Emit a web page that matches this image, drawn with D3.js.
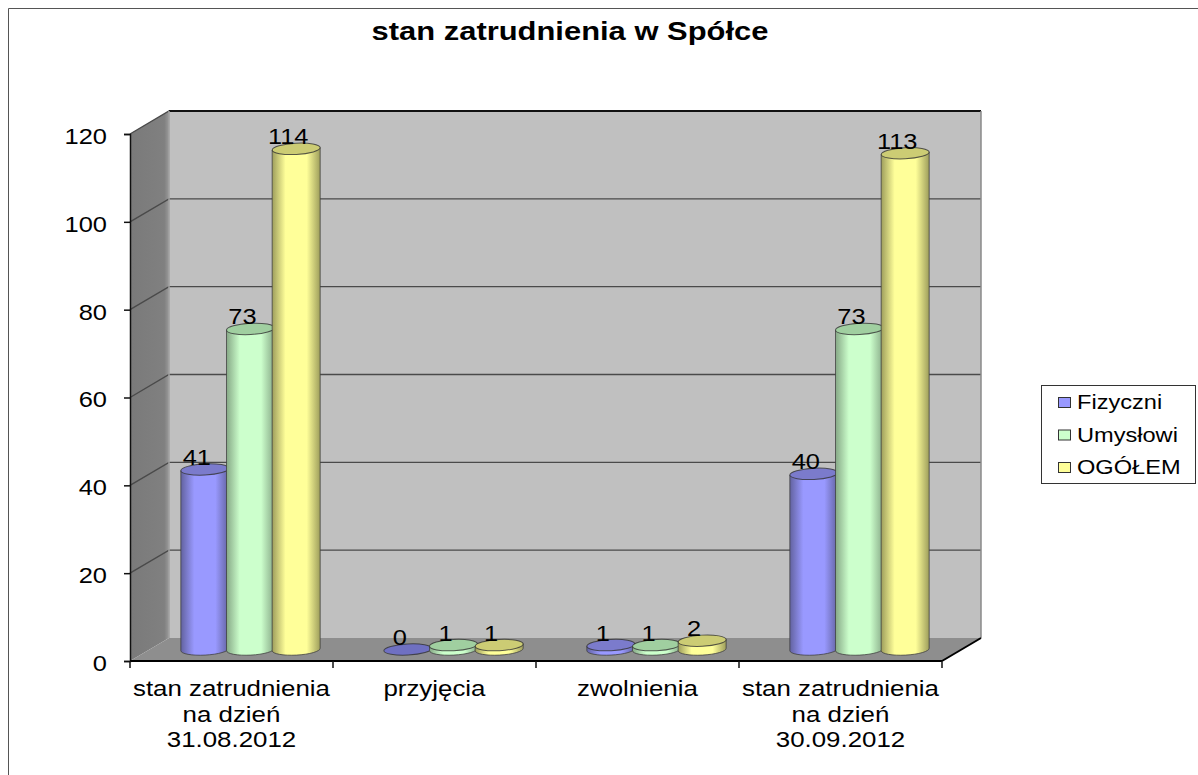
<!DOCTYPE html>
<html><head><meta charset="utf-8">
<script src="https://cdn.jsdelivr.net/npm/d3@7"></script>
<style>html,body{margin:0;padding:0;background:#fff}svg{display:block}text{font-family:"Liberation Sans",Arial,sans-serif;fill:#000}</style>
</head><body><script>
const title = "stan zatrudnienia w Spółce";
const categories = [["stan zatrudnienia","na dzień","31.08.2012"],["przyjęcia"],["zwolnienia"],["stan zatrudnienia","na dzień","30.09.2012"]];
const seriesNames = ["Fizyczni","Umysłowi","OGÓŁEM"];
const fizyczni = [41,0,1,40];
const umyslowi = [73,1,1,73];
const ogolem = [114,1,2,113];
const yTicks = [0,20,40,60,80,100,120];
const seriesValues = [fizyczni,umyslowi,ogolem];
const colors = [
 {main:"#9999ff",dark:"#62629f",top:"#7b7bcc"},
 {main:"#ccffcc",dark:"#86a886",top:"#a0cfa0"},
 {main:"#ffff99",dark:"#9e9e5c",top:"#cccc74"}];
const W=1198,H=775,dx=39,dy=-23;
const svg=d3.select("body").append("svg").attr("width",W).attr("height",H);
const defs=svg.append("defs");
colors.forEach((c,i)=>{
  const g=defs.append("linearGradient").attr("id","cyl"+i);
  [[0,c.dark],[.28,c.main],[.72,c.main],[1,c.dark]].forEach(([o,col])=>g.append("stop").attr("offset",o).attr("stop-color",col));
});
const sideGrad=defs.append("linearGradient").attr("id","side");
[[0,"#7a7a7a"],[.88,"#808080"],[1,"#9a9a9a"]].forEach(([o,c])=>sideGrad.append("stop").attr("offset",o).attr("stop-color",c));

const x=d3.scaleBand().domain(d3.range(categories.length)).range([130,942]);
const y=d3.scaleLinear().domain([0,120]).range([661,134]);
const inner=d3.scaleBand().domain(d3.range(3)).range([-69,68]);
const y0=y(0),y1=y(120);
const xL=x.range()[0],xR=x.range()[1];

// horizontal stretch of text about its anchor
function stretch(sel,sx){
  sel.each(function(){
    const a=this.getAttribute("text-anchor")||getComputedStyle(this).textAnchor;
    const b=this.getBBox();
    const ax=a==="middle"?b.x+b.width/2:a==="end"?b.x+b.width:b.x;
    this.setAttribute("transform",`translate(${ax},0) scale(${sx},1) translate(${-ax},0)`);
  });
}

// frame
svg.append("path").attr("d",`M8.5,${H}V8.5H${W}`).attr("fill","none").attr("stroke","#555").attr("stroke-width",1);
svg.append("text").attr("x",570).attr("y",40).attr("text-anchor","middle").attr("font-size",25).attr("font-weight","bold").text(title).call(stretch,1.237);

// walls
const poly=p=>"M"+p.map(d=>d.join(",")).join("L")+"Z";
svg.append("path").attr("d",poly([[xL+dx,y1+dy],[xR+dx,y1+dy],[xR+dx,y0+dy],[xL+dx,y0+dy]])).attr("fill","#c0c0c0");
svg.append("path").attr("d",poly([[xL,y1],[xL+dx,y1+dy],[xL+dx,y0+dy],[xL,y0]])).attr("fill","url(#side)");
svg.append("path").attr("d",poly([[xL,y0],[xL+dx,y0+dy],[xR+dx,y0+dy],[xR,y0]])).attr("fill","#8e8e8e");
// grid
yTicks.filter(t=>t>0).forEach(t=>{
  svg.append("path").attr("d",`M${xL},${y(t)}L${xL+dx},${y(t)+dy}H${xR+dx}`).attr("fill","none").attr("stroke","#4a4a4a").attr("stroke-width",1.4);
  if(t===120) svg.append("line").attr("x1",xL+dx).attr("x2",xR+dx).attr("y1",y(t)+dy).attr("y2",y(t)+dy).attr("stroke","#111").attr("stroke-width",2);
});
svg.append("line").attr("x1",xR+dx).attr("x2",xR+dx).attr("y1",y1+dy).attr("y2",y0+dy).attr("stroke","#8a8a8a").attr("stroke-width",1.5);
svg.append("line").attr("x1",xL+dx).attr("x2",xL+dx).attr("y1",y1+dy).attr("y2",y0+dy).attr("stroke","#a0a0a0").attr("stroke-width",1.5);

// axes
const axisY=d3.axisLeft(y).tickValues(yTicks).tickSize(6).tickPadding(17);
const gy=svg.append("g").attr("transform",`translate(${xL},0)`).call(axisY);
gy.selectAll("text").attr("font-size",22.5).attr("font-family","Liberation Sans").attr("text-anchor","end").attr("dy","0.42em").call(stretch,1.13);
gy.selectAll("line,path").attr("stroke","#111").attr("stroke-width",1.5);
svg.append("line").attr("x1",xL).attr("x2",xR).attr("y1",y0).attr("y2",y0).attr("stroke","#000").attr("stroke-width",2);
svg.append("line").attr("x1",xR).attr("x2",xR+dx).attr("y1",y0).attr("y2",y0+dy).attr("stroke","#000").attr("stroke-width",2);
const tickXs=categories.map((_,i)=>x(i)).concat([xR]);
svg.selectAll(".xt").data(tickXs).join("line").attr("x1",d=>d).attr("x2",d=>d).attr("y1",y0).attr("y2",y0+7).attr("stroke","#111").attr("stroke-width",1.5);
categories.forEach((lines,i)=>{
  lines.forEach((l,j)=>svg.append("text").attr("text-anchor","middle").attr("font-size",22.5)
    .attr("x",x(i)+x.bandwidth()/2).attr("y",696.5+j*25.5).text(l).call(stretch,1.15));
});

// cylinders
const rx=24,ry=5.6,tilt=-3,shiftX=dx/2,shiftY=dy/2;
seriesValues.forEach((vals,s)=>{
  const c=colors[s];
  const g=svg.append("g");
  vals.forEach((v,i)=>{
    const cx=x(i)+x.bandwidth()/2+shiftX+inner(s)+inner.bandwidth()/2;
    const yb=y(0)+shiftY, yt=y(v)+shiftY;
    const sin=Math.sin(tilt*Math.PI/180)*rx;
    const cg=g.append("g");
    if(v>0){
      cg.append("path").attr("d",
        `M${cx-rx},${yt-sin}L${cx-rx},${yb-sin}A${rx},${ry} ${tilt} 0 0 ${cx+rx},${yb+sin}L${cx+rx},${yt+sin}Z`)
        .attr("fill",`url(#cyl${s})`).attr("stroke","#3c3c3c").attr("stroke-opacity",.75).attr("stroke-width",1);
    }
    cg.append("ellipse").attr("cx",cx).attr("cy",yt).attr("rx",rx).attr("ry",ry)
      .attr("transform",`rotate(${tilt} ${cx} ${yt})`)
      .attr("fill",v===0?"#6f70c2":c.top).attr("stroke","#333").attr("stroke-opacity",.8).attr("stroke-width",1);
    svg.append("text").attr("class","dl").attr("x",cx-8).attr("y",yt-4.5).attr("text-anchor","middle").attr("font-size",22.5).text(v).call(stretch,1.13);
  });
});
svg.selectAll(".dl").raise();

// legend
const lg=svg.append("g");
lg.append("rect").attr("x",1041.5).attr("y",385.5).attr("width",154).attr("height",98).attr("fill","#fff").attr("stroke","#333").attr("stroke-width",1);
seriesNames.forEach((n,i)=>{
  const yy=402+i*32.5;
  lg.append("rect").attr("x",1058.5).attr("y",yy-4.5).attr("width",12).attr("height",10).attr("fill",colors[i].main).attr("stroke","#333");
  lg.append("text").attr("x",1077).attr("y",yy+7.3).attr("font-size",20).text(n).call(stretch,1.18);
});
</script></body></html>
